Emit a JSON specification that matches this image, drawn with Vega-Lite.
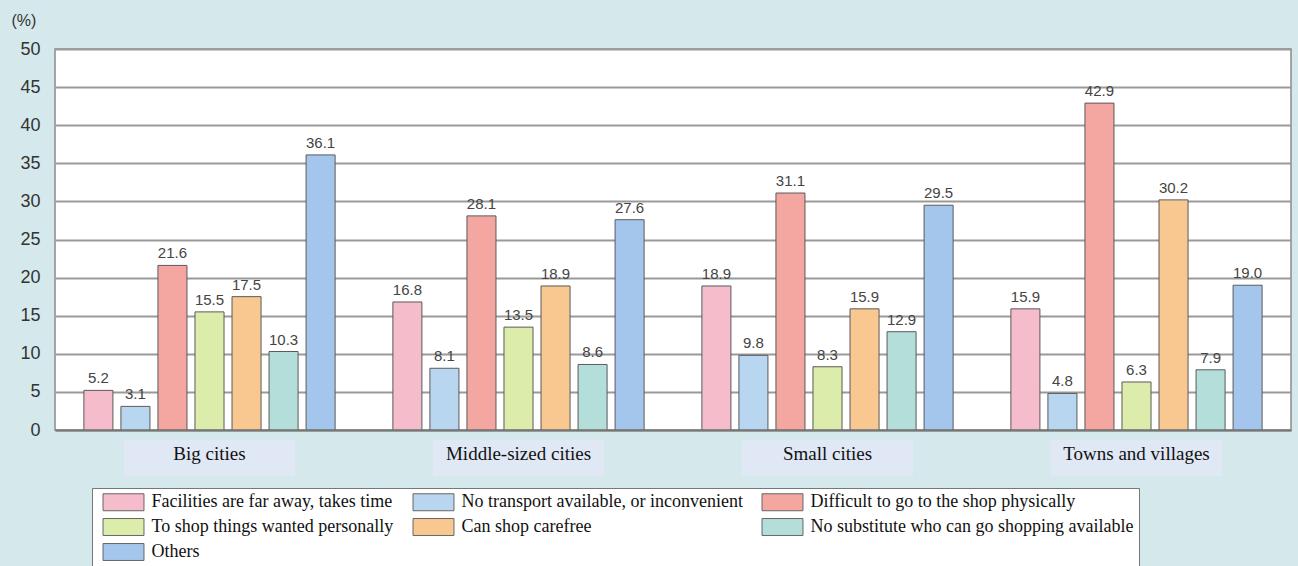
{
  "$schema": "https://vega.github.io/schema/vega-lite/v6.json",
  "width": 1236,
  "height": 381,
  "autosize": {"type": "none"},
  "padding": {"left": 55, "top": 49, "right": 7, "bottom": 136},
  "background": "#d5e9ec",
  "config": {
    "view": {"fill": "white", "stroke": "#8a8a8a", "strokeWidth": 1.5},
    "font": "Liberation Sans"
  },
  "data": {
    "values": [
      {"area": "Big cities", "reason": "Facilities are far away, takes time", "pct": 5.2},
      {"area": "Big cities", "reason": "No transport available, or inconvenient", "pct": 3.1},
      {"area": "Big cities", "reason": "Difficult to go to the shop physically", "pct": 21.6},
      {"area": "Big cities", "reason": "To shop things wanted personally", "pct": 15.5},
      {"area": "Big cities", "reason": "Can shop carefree", "pct": 17.5},
      {"area": "Big cities", "reason": "No substitute who can go shopping available", "pct": 10.3},
      {"area": "Big cities", "reason": "Others", "pct": 36.1},
      {"area": "Middle-sized cities", "reason": "Facilities are far away, takes time", "pct": 16.8},
      {"area": "Middle-sized cities", "reason": "No transport available, or inconvenient", "pct": 8.1},
      {"area": "Middle-sized cities", "reason": "Difficult to go to the shop physically", "pct": 28.1},
      {"area": "Middle-sized cities", "reason": "To shop things wanted personally", "pct": 13.5},
      {"area": "Middle-sized cities", "reason": "Can shop carefree", "pct": 18.9},
      {"area": "Middle-sized cities", "reason": "No substitute who can go shopping available", "pct": 8.6},
      {"area": "Middle-sized cities", "reason": "Others", "pct": 27.6},
      {"area": "Small cities", "reason": "Facilities are far away, takes time", "pct": 18.9},
      {"area": "Small cities", "reason": "No transport available, or inconvenient", "pct": 9.8},
      {"area": "Small cities", "reason": "Difficult to go to the shop physically", "pct": 31.1},
      {"area": "Small cities", "reason": "To shop things wanted personally", "pct": 8.3},
      {"area": "Small cities", "reason": "Can shop carefree", "pct": 15.9},
      {"area": "Small cities", "reason": "No substitute who can go shopping available", "pct": 12.9},
      {"area": "Small cities", "reason": "Others", "pct": 29.5},
      {"area": "Towns and villages", "reason": "Facilities are far away, takes time", "pct": 15.9},
      {"area": "Towns and villages", "reason": "No transport available, or inconvenient", "pct": 4.8},
      {"area": "Towns and villages", "reason": "Difficult to go to the shop physically", "pct": 42.9},
      {"area": "Towns and villages", "reason": "To shop things wanted personally", "pct": 6.3},
      {"area": "Towns and villages", "reason": "Can shop carefree", "pct": 30.2},
      {"area": "Towns and villages", "reason": "No substitute who can go shopping available", "pct": 7.9},
      {"area": "Towns and villages", "reason": "Others", "pct": 19.0}
    ]
  },
  "encoding": {
    "x": {
      "field": "area",
      "type": "nominal",
      "sort": ["Big cities", "Middle-sized cities", "Small cities", "Towns and villages"],
      "scale": {"padding": 0},
      "axis": {
        "title": null,
        "labelAngle": 0,
        "labelFont": "Liberation Serif",
        "labelFontSize": 19,
        "labelColor": "#111",
        "labelPadding": 14,
        "ticks": false,
        "domain": true,
        "domainColor": "#777",
        "domainWidth": 2,
        "grid": false,
        "zindex": 1
      }
    }
  },
  "layer": [
    {
      "mark": {"type": "bar", "fill": "#dfe8f4", "width": {"band": 0.55}},
      "encoding": {
        "y": {
          "datum": -1.3,
          "type": "quantitative",
          "scale": {"domain": [0, 50], "nice": false},
          "axis": {
            "values": [0, 5, 10, 15, 20, 25, 30, 35, 40, 45, 50],
            "grid": true,
            "gridColor": "#9a9a9a",
            "gridWidth": 2,
            "domain": false,
            "ticks": false,
            "labelFontSize": 18,
            "labelColor": "#333",
            "labelPadding": 15,
            "title": "(%)",
            "titleAngle": 0,
            "titleAlign": "left",
            "titleBaseline": "middle",
            "titleX": -44,
            "titleY": -29,
            "titleFontSize": 16,
            "titleFontWeight": "normal",
            "titleColor": "#333"
          }
        },
        "y2": {"datum": -6}
      }
    },
    {
      "mark": {"type": "bar", "stroke": "#5a5a5a", "strokeWidth": 1},
      "encoding": {
        "xOffset": {
          "field": "reason",
          "type": "nominal",
          "sort": [
            "Facilities are far away, takes time",
            "No transport available, or inconvenient",
            "Difficult to go to the shop physically",
            "To shop things wanted personally",
            "Can shop carefree",
            "No substitute who can go shopping available",
            "Others"
          ],
          "scale": {"paddingInner": 0.216, "paddingOuter": 0.78}
        },
        "y": {
          "field": "pct",
          "type": "quantitative",
          "scale": {"domain": [0, 50], "nice": false},
          "axis": {
            "values": [0, 5, 10, 15, 20, 25, 30, 35, 40, 45, 50],
            "grid": true,
            "gridColor": "#9a9a9a",
            "gridWidth": 2,
            "domain": false,
            "ticks": false,
            "labelFontSize": 18,
            "labelColor": "#333",
            "labelPadding": 15,
            "title": "(%)",
            "titleAngle": 0,
            "titleAlign": "left",
            "titleBaseline": "middle",
            "titleX": -44,
            "titleY": -29,
            "titleFontSize": 16,
            "titleFontWeight": "normal",
            "titleColor": "#333"
          }
        },
        "fill": {
          "field": "reason",
          "type": "nominal",
          "scale": {
            "domain": [
              "Facilities are far away, takes time",
              "No transport available, or inconvenient",
              "Difficult to go to the shop physically",
              "To shop things wanted personally",
              "Can shop carefree",
              "No substitute who can go shopping available",
              "Others"
            ],
            "range": ["#f5bccb", "#b9d6f0", "#f4a7a0", "#dcecaa", "#f9c890", "#b4ded9", "#a4c6ec"]
          },
          "legend": {
            "title": null,
            "orient": "none",
            "direction": "horizontal",
            "legendX": 37,
            "legendY": 439,
            "columns": 3,
            "gridAlign": "each",
            "labelFont": "Liberation Serif",
            "labelFontSize": 18,
            "labelColor": "#111",
            "labelLimit": 400,
            "symbolType": "M-2.56,-1.06H2.56V1.06H-2.56Z",
            "symbolSize": 256,
            "symbolStrokeColor": "#666",
            "symbolStrokeWidth": 1,
            "symbolOffset": 17.5,
            "labelOffset": 19,
            "fillColor": "white",
            "strokeColor": "#777",
            "padding": 5,
            "rowPadding": 3,
            "columnPadding": 13
          }
        }
      }
    },
    {
      "mark": {"type": "text", "dy": -12, "fontSize": 15, "fill": "#444"},
      "encoding": {
        "xOffset": {
          "field": "reason",
          "type": "nominal",
          "sort": [
            "Facilities are far away, takes time",
            "No transport available, or inconvenient",
            "Difficult to go to the shop physically",
            "To shop things wanted personally",
            "Can shop carefree",
            "No substitute who can go shopping available",
            "Others"
          ]
        },
        "y": {
          "field": "pct",
          "type": "quantitative",
          "scale": {"domain": [0, 50], "nice": false},
          "axis": {
            "values": [0, 5, 10, 15, 20, 25, 30, 35, 40, 45, 50],
            "grid": true,
            "gridColor": "#9a9a9a",
            "gridWidth": 2,
            "domain": false,
            "ticks": false,
            "labelFontSize": 18,
            "labelColor": "#333",
            "labelPadding": 15,
            "title": "(%)",
            "titleAngle": 0,
            "titleAlign": "left",
            "titleBaseline": "middle",
            "titleX": -44,
            "titleY": -29,
            "titleFontSize": 16,
            "titleFontWeight": "normal",
            "titleColor": "#333"
          }
        },
        "text": {"field": "pct", "type": "quantitative", "format": ".1f"}
      }
    }
  ]
}
